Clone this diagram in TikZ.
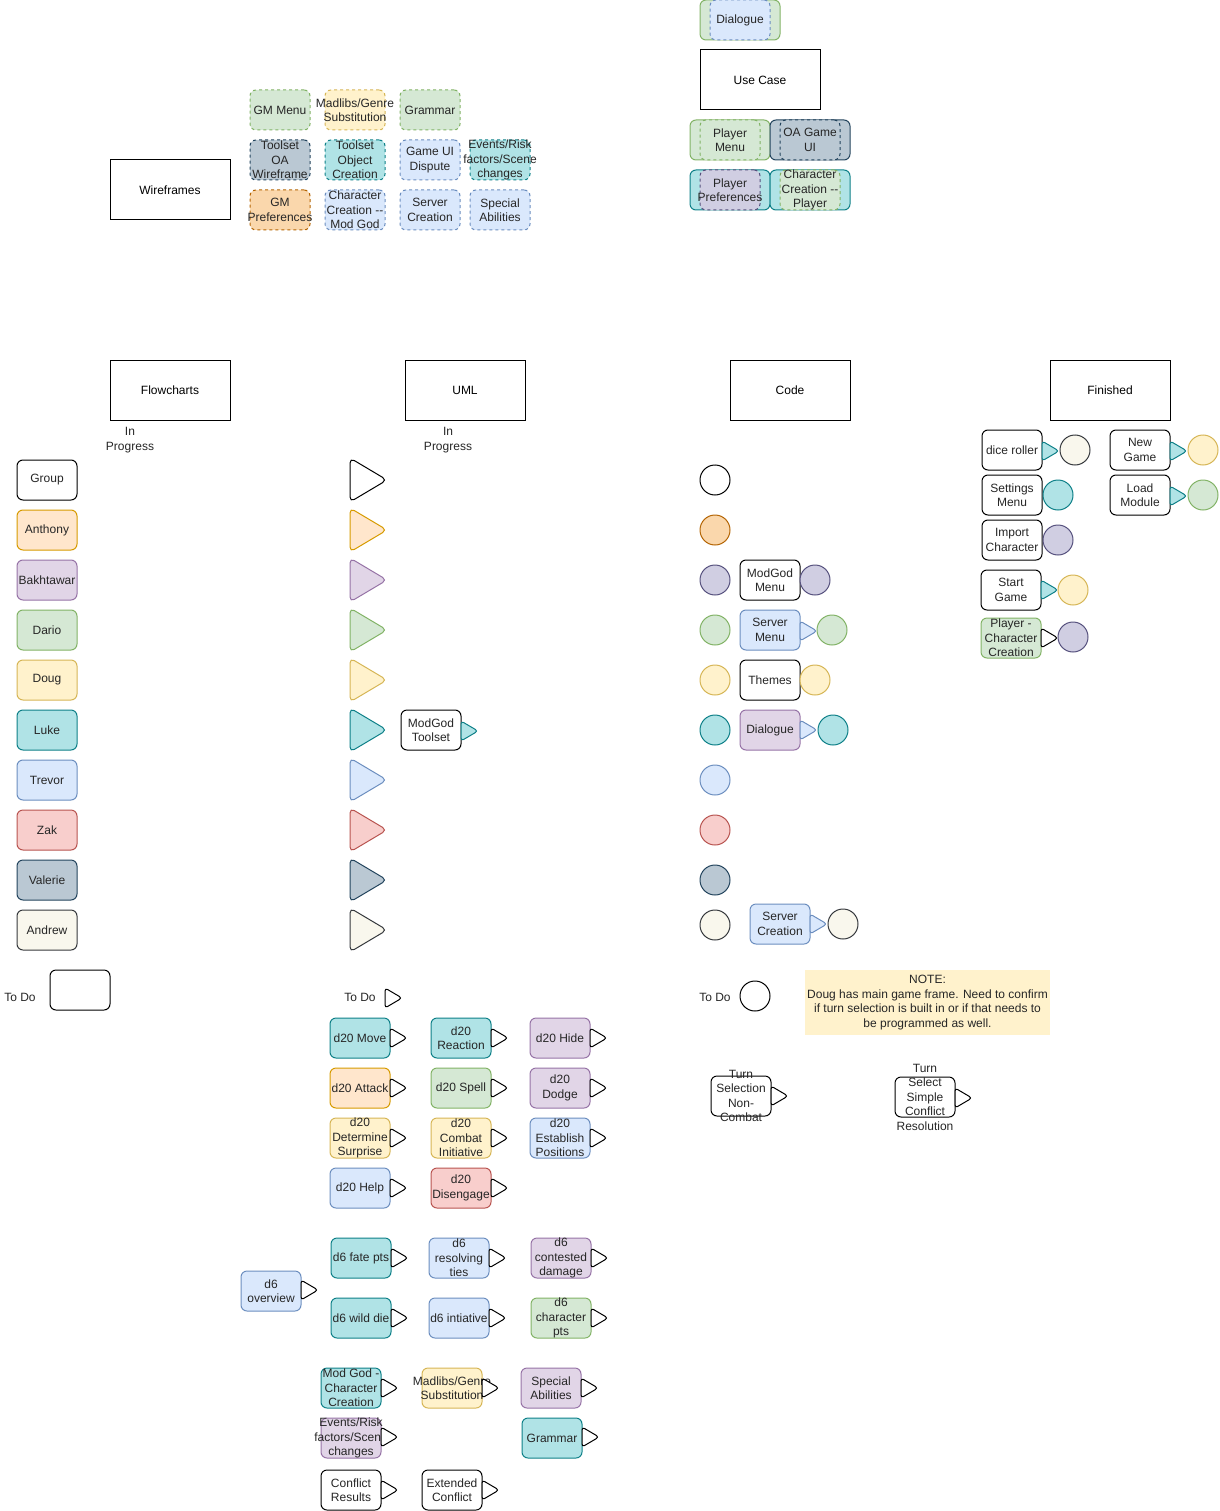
\documentclass[tikz,border=0pt]{standalone}
\usepackage{fontspec}
\setmainfont{Liberation Sans}
\definecolor{orF}{HTML}{FFE6CC}\definecolor{orD}{HTML}{D79B00}
\definecolor{puF}{HTML}{E1D5E7}\definecolor{puD}{HTML}{9673A6}
\definecolor{grF}{HTML}{D5E8D4}\definecolor{grD}{HTML}{82B366}
\definecolor{yeF}{HTML}{FFF2CC}\definecolor{yeD}{HTML}{D6B656}
\definecolor{teF}{HTML}{B0E3E6}\definecolor{teD}{HTML}{0E8088}
\definecolor{blF}{HTML}{DAE8FC}\definecolor{blD}{HTML}{6C8EBF}
\definecolor{reF}{HTML}{F8CECC}\definecolor{reD}{HTML}{B85450}
\definecolor{gyF}{HTML}{BAC8D3}\definecolor{gyD}{HTML}{23445D}
\definecolor{anF}{HTML}{F9F7ED}\definecolor{anD}{HTML}{36393D}
\definecolor{oxF}{HTML}{FAD7AC}\definecolor{oxD}{HTML}{B46504}
\definecolor{pxF}{HTML}{D0CEE2}\definecolor{pxD}{HTML}{56517E}
\newcommand\fs{\fontsize{12}{14.5}\selectfont}
\tikzset{
  wh/.style={fill=white,draw=black},
  or/.style={fill=orF,draw=orD},
  pu/.style={fill=puF,draw=puD},
  gr/.style={fill=grF,draw=grD},
  ye/.style={fill=yeF,draw=yeD},
  te/.style={fill=teF,draw=teD},
  bl/.style={fill=blF,draw=blD},
  re/.style={fill=reF,draw=reD},
  gy/.style={fill=gyF,draw=gyD},
  an/.style={fill=anF,draw=anD},
  ox/.style={fill=oxF,draw=oxD},
  px/.style={fill=pxF,draw=pxD},
  dsh/.style={dash pattern=on 3pt off 3pt},
  bx/.style={draw,rounded corners=6,minimum width=60,minimum height=40,inner sep=0,line width=1pt},
  hdr/.style={draw=black,fill=white,minimum width=120,minimum height=60,inner sep=0,line width=1pt,font=\fs},
  lbl/.style={inner sep=0,align=center,font=\fs,text=black!85},
  cir/.style={circle,draw,minimum size=30,inner sep=0,line width=1pt},
  tri/.style={rounded corners=3,line width=1pt},
}
\newcommand\bx[5]{\node[bx,#2] (#1) at (#3,#4) {}; \node[lbl] (#1t) at (#1.center) {#5};}
\newcommand\stri[3]{\draw[#1,tri] (#2,{#3-10}) -- ({#2+17},#3) -- (#2,{#3+10}) -- cycle;}
\newcommand\btri[2]{\draw[#1,rounded corners=5,line width=1pt] (350,{#2-22}) -- (387,#2) -- (350,{#2+22}) -- cycle;}
\begin{document}
\begin{tikzpicture}[x=1pt,y=-1pt]
\useasboundingbox (0,0) rectangle (1219,1511);
% ---------- headers ----------
\node[hdr] (wire) at (170,190) {Wireframes};
\node[hdr] (usec) at (760,80) {Use Case};
\node[hdr] (flow) at (170,390) {Flowcharts};
\node[hdr] (uml) at (465,390) {UML};
\node[hdr] (code) at (790,390) {Code};
\node[hdr] (fin) at (1110,390) {Finished};
\node[lbl] (ip1) at (130,440) {In\\Progress};
\node[lbl] (ip2) at (448,440) {In\\Progress};
% ---------- wireframes ----------
\bx{w1}{gr,dsh}{280}{110}{GM Menu}
\bx{w2}{ye,dsh}{355}{110}{Madlibs/Genre\\Substitution}
\bx{w3}{gr,dsh}{430}{110}{Grammar}
\bx{w4}{gy,dsh}{280}{160}{Toolset\\OA\\Wireframe}
\bx{w5}{te,dsh}{355}{160}{Toolset\\Object\\Creation}
\bx{w6}{bl,dsh}{430}{160}{Game UI\\Dispute}
\bx{w7}{te,dsh}{500}{160}{Events/Risk\\factors/Scene\\changes}
\bx{w8}{ox,dsh}{280}{210}{GM\\Preferences}
\bx{w9}{bl,dsh}{355}{210}{Character\\Creation -{}-\\Mod God}
\bx{w10}{bl,dsh}{430}{210}{Server\\Creation}
\bx{w11}{bl,dsh}{500}{210}{Special\\Abilities}
% ---------- use case ----------
\node[bx,gr,minimum width=80] (u1o) at (740,20) {};
\bx{u1}{bl,dsh}{740}{20}{Dialogue}
\node[bx,gr,minimum width=80] (u2o) at (730,140) {};
\bx{u2}{gr,dsh}{730}{140}{Player\\Menu}
\node[bx,gy,minimum width=80] (u3o) at (810,140) {};
\bx{u3}{gy,dsh}{810}{140}{OA Game\\UI}
\node[bx,te,minimum width=80] (u4o) at (730,190) {};
\bx{u4}{px,dsh}{730}{190}{Player\\Preferences}
\node[bx,te,minimum width=80] (u5o) at (810,190) {};
\bx{u5}{gr,dsh}{810}{190}{Character\\Creation -{}-\\Player}
% ---------- people ----------
\bx{p1}{wh}{47}{480}{Group}
\bx{p2}{or}{47}{530}{Anthony}
\bx{p3}{pu}{47}{580}{Bakhtawar}
\bx{p4}{gr}{47}{630}{Dario}
\bx{p5}{ye}{47}{680}{Doug}
\bx{p6}{te}{47}{730}{Luke}
\bx{p7}{bl}{47}{780}{Trevor}
\bx{p8}{re}{47}{830}{Zak}
\bx{p9}{gy}{47}{880}{Valerie}
\bx{p10}{an}{47}{930}{Andrew}
\node[lbl] (td1) at (20,997) {To Do};
\node[bx,wh] (tdb) at (80,990) {};
% ---------- UML triangles ----------
\btri{wh}{480}
\btri{or}{530}
\btri{pu}{580}
\btri{gr}{630}
\btri{ye}{680}
\btri{te}{730}
\btri{bl}{780}
\btri{re}{830}
\btri{gy}{880}
\btri{an}{930}
\bx{mt}{wh}{431}{730}{ModGod\\Toolset}
\stri{te}{461}{731}
\node[lbl] (td2) at (360,997) {To Do};
\stri{wh}{385}{998}
% ---------- code circles ----------
\node[cir,wh] (c1) at (715,480) {};
\node[cir,ox] (c2) at (715,530) {};
\node[cir,px] (c3) at (715,580) {};
\node[cir,gr] (c4) at (715,630) {};
\node[cir,ye] (c5) at (715,680) {};
\node[cir,te] (c6) at (715,730) {};
\node[cir,bl] (c7) at (715,780) {};
\node[cir,re] (c8) at (715,830) {};
\node[cir,gy] (c9) at (715,880) {};
\node[cir,an] (c10) at (715,925) {};
\bx{k1}{wh}{770}{580}{ModGod\\Menu}
\node[cir,px] (k1c) at (815,580) {};
\bx{k2}{bl}{770}{630}{Server\\Menu}
\stri{bl}{800}{631}
\node[cir,gr] (k2c) at (832,630) {};
\bx{k3}{wh}{770}{680}{Themes}
\node[cir,ye] (k3c) at (815,680) {};
\bx{k4}{pu}{770}{730}{Dialogue}
\stri{bl}{800}{730}
\node[cir,te] (k4c) at (833,730) {};
\bx{k5}{bl}{780}{924}{Server\\Creation}
\stri{bl}{810}{924}
\node[cir,an] (k5c) at (843,924) {};
\node[lbl] (td3) at (715,997) {To Do};
\node[cir,wh] (tdc) at (755,996) {};
% ---------- note ----------
\node[fill=yeF,minimum width=245,minimum height=65,inner sep=0] (note) at (927.5,1002.5) {};
\node[lbl] (notet) at (note.center) {NOTE:\\Doug has main game frame. Need to confirm\\if turn selection is built in or if that needs to\\be programmed as well.};
\bx{t1}{wh}{741}{1096}{Turn\\Selection\\Non-\\Combat}
\stri{wh}{771}{1096}
\bx{t2}{wh}{925}{1097}{Turn\\Select\\Simple\\Conflict\\Resolution}
\stri{wh}{955}{1098}
% ---------- finished ----------
\bx{f1}{wh}{1012}{450}{dice roller}
\stri{te}{1042}{451}
\node[cir,an] (f1c) at (1075,450) {};
\bx{f2}{wh}{1012}{495}{Settings\\Menu}
\node[cir,te] (f2c) at (1058,495) {};
\bx{f3}{wh}{1012}{540}{Import\\Character}
\node[cir,px] (f3c) at (1058,540) {};
\bx{f4}{wh}{1011}{590}{Start\\Game}
\stri{te}{1041}{590}
\node[cir,ye] (f4c) at (1073,590) {};
\bx{f5}{gr}{1011}{638}{Player -\\Character\\Creation}
\stri{wh}{1041}{638}
\node[cir,px] (f5c) at (1073,637) {};
\bx{f6}{wh}{1140}{450}{New\\Game}
\stri{te}{1170}{451}
\node[cir,ye] (f6c) at (1203,450) {};
\bx{f7}{wh}{1140}{495}{Load\\Module}
\stri{te}{1170}{496}
\node[cir,gr] (f7c) at (1203,495) {};
% ---------- d20 ----------
\bx{d1}{te}{360}{1038}{d20 Move}\stri{wh}{390}{1038}
\bx{d2}{te}{461}{1038}{d20\\Reaction}\stri{wh}{491}{1038}
\bx{d3}{pu}{560}{1038}{d20 Hide}\stri{wh}{590}{1038}
\bx{d4}{or}{360}{1088}{d20 Attack}\stri{wh}{390}{1088}
\bx{d5}{gr}{461}{1088}{d20 Spell}\stri{wh}{491}{1088}
\bx{d6}{pu}{560}{1088}{d20\\Dodge}\stri{wh}{590}{1088}
\bx{d7}{ye}{360}{1138}{d20\\Determine\\Surprise}\stri{wh}{390}{1138}
\bx{d8}{ye}{461}{1138}{d20\\Combat\\Initiative}\stri{wh}{491}{1138}
\bx{d9}{bl}{560}{1138}{d20\\Establish\\Positions}\stri{wh}{590}{1138}
\bx{d10}{bl}{360}{1188}{d20 Help}\stri{wh}{390}{1188}
\bx{d11}{re}{461}{1188}{d20\\Disengage}\stri{wh}{491}{1188}
% ---------- d6 ----------
\bx{e0}{bl}{271}{1291}{d6\\overview}\stri{wh}{301}{1290}
\bx{e1}{te}{361}{1258}{d6 fate pts}\stri{wh}{391}{1258}
\bx{e2}{bl}{459}{1258}{d6\\resolving\\ties}\stri{wh}{489}{1258}
\bx{e3}{pu}{561}{1258}{d6\\contested\\damage}\stri{wh}{591}{1258}
\bx{e4}{te}{361}{1318}{d6 wild die}\stri{wh}{391}{1318}
\bx{e5}{bl}{459}{1318}{d6 intiative}\stri{wh}{489}{1318}
\bx{e6}{gr}{561}{1318}{d6\\character\\pts}\stri{wh}{591}{1318}
% ---------- misc ----------
\bx{m1}{te}{351}{1388}{Mod God -\\Character\\Creation}\stri{wh}{381}{1388}
\bx{m2}{ye}{452}{1388}{Madlibs/Genre\\Substitution}\stri{wh}{482}{1388}
\bx{m3}{pu}{551}{1388}{Special\\Abilities}\stri{wh}{581}{1388}
\bx{m4}{pu}{351}{1438}{Events/Risk\\factors/Scene\\changes}\stri{wh}{381}{1437}
\bx{m5}{te}{552}{1438}{Grammar}\stri{wh}{582}{1437}
\bx{m6}{wh}{351}{1490}{Conflict\\Results}\stri{wh}{381}{1490}
\bx{m7}{wh}{452}{1490}{Extended\\Conflict}\stri{wh}{482}{1490}
\end{tikzpicture}
\end{document}
